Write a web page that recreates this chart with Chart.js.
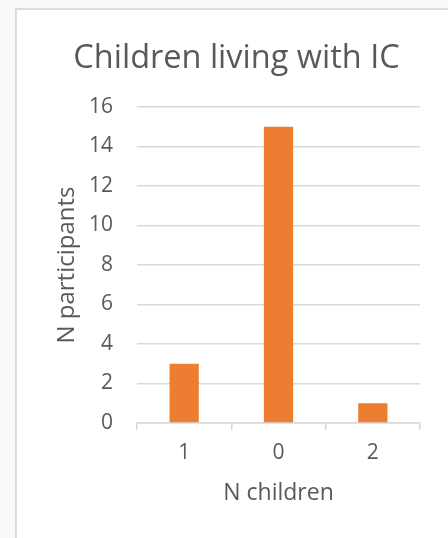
<!DOCTYPE html>
<html>
<head>
<meta charset="utf-8">
<script src="https://cdn.jsdelivr.net/npm/chart.js@4.4.1/dist/chart.umd.min.js"></script>
<style>
  html, body { margin: 0; padding: 0; background: #f9f9fb; }
  body { width: 448px; height: 538px; position: relative; overflow: hidden; }
  #panel {
    position: absolute; left: 15px; top: 8px; right: 0; bottom: 0;
    background: #ffffff;
    border-left: 2px solid #dcdcdc; border-top: 2px solid #dcdcdc;
  }
  #wrap { position: absolute; left: 0; top: 0; width: 448px; height: 538px; }
</style>
</head>
<body>
<div id="panel"></div>
<div id="wrap"><canvas id="chart" width="448" height="538"></canvas></div>
<script>
// Number of children living in the household, and how many participants gave each answer
const categories = ['1', '0', '2'];
const participants = [3, 15, 1];
const yTicks = [0, 2, 4, 6, 8, 10, 12, 14, 16];

const TEXT = '#595959';
const FONT = "'Open Sans', 'Noto Sans', sans-serif";
const PAD_LEFT = 53;

new Chart(document.getElementById('chart'), {
  type: 'bar',
  data: {
    labels: categories,
    datasets: [{
      data: participants,
      backgroundColor: '#ED7D31',
      borderWidth: 0,
      categoryPercentage: 0.31,
      barPercentage: 1
    }]
  },
  options: {
    responsive: false,
    animation: false,
    devicePixelRatio: 1,
    layout: { padding: { left: PAD_LEFT, right: 28, top: 10, bottom: 0 } },
    plugins: {
      legend: { display: false },
      tooltip: { enabled: false },
      title: {
        display: true,
        text: 'Children living with IC',
        color: TEXT,
        font: { family: FONT, size: 32.5, weight: 'normal' },
        padding: { top: 29, bottom: 29 }
      }
    },
    scales: {
      x: {
        grid: {
          offset: true,
          drawOnChartArea: false,
          drawTicks: true,
          tickLength: 7,
          color: '#d9d9d9',
          lineWidth: 1.5
        },
        border: { display: true, color: '#d9d9d9', width: 1.5 },
        ticks: { color: TEXT, font: { family: FONT, size: 21 }, padding: 10 },
        title: {
          display: true,
          text: 'N children',
          color: TEXT,
          font: { family: FONT, size: 23 },
          padding: { top: 0, bottom: 31 }
        },
        afterFit: (scale) => { scale.height = 115; }
      },
      y: {
        min: 0,
        max: 16,
        afterBuildTicks: (scale) => { scale.ticks = yTicks.map(v => ({ value: v })); },
        grid: { drawTicks: false, color: '#d9d9d9', lineWidth: 1.5 },
        border: { display: false },
        ticks: { color: TEXT, font: { family: FONT, size: 21 }, padding: 24 },
        title: {
          display: true,
          text: 'N participants',
          color: TEXT,
          font: { family: FONT, size: 24 },
          padding: { top: 0, bottom: 0 }
        },
        afterFit: (scale) => { scale.width = 137 - PAD_LEFT; }
      }
    }
  }
});
</script>
</body>
</html>
